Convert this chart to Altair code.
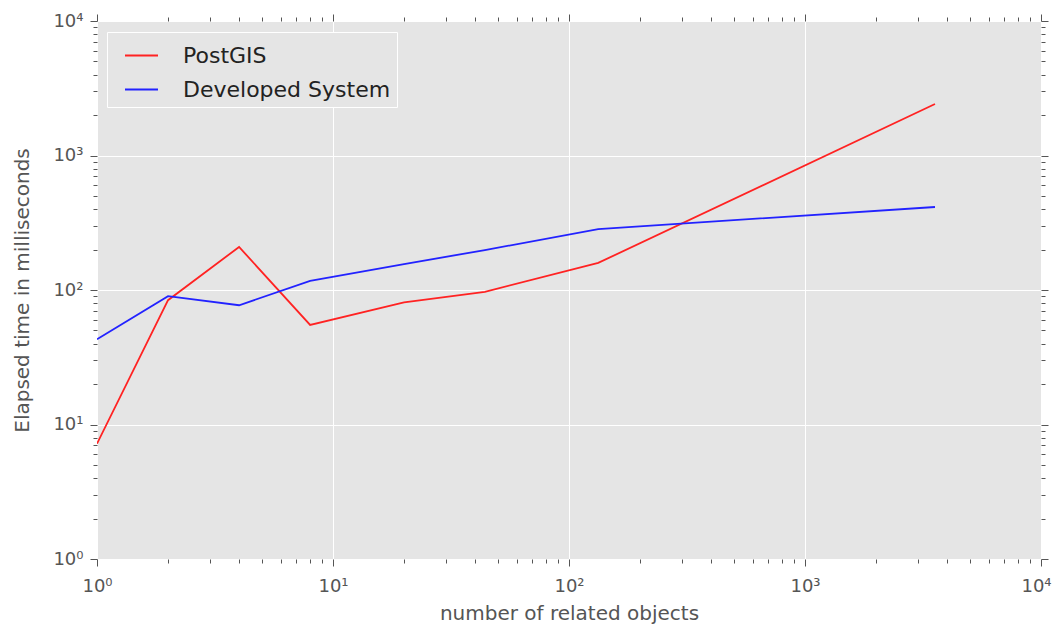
import altair as alt
import pandas as pd

# ---- data ----
objects = [1, 2, 4, 8, 20, 44, 133, 3555]
postgis_ms = [7.2, 84, 209, 55, 81, 97, 159, 2415]
developed_ms = [43, 90, 77, 117, 156, 198, 284, 414]
series_names = ["PostGIS", "Developed System"]
series_colors = ["#FF2222", "#2222FF"]
major_ticks = [1, 10, 100, 1000, 10000]
minor_ticks = [m * 10 ** e for e in range(4) for m in range(2, 10)]

rows = []
for name, vals in zip(series_names, [postgis_ms, developed_ms]):
    for xv, yv in zip(objects, vals):
        rows.append({"series": name, "objects": xv, "ms": yv})
df = pd.DataFrame(rows)

W, H = 944, 538
FONT = "DejaVu Sans"
GREY = "#555555"
BG = "#E5E5E5"

sup = "'10' + ['\u2070','\u00b9','\u00b2','\u00b3','\u2074'][round(log(datum.value)/LN10)]"


def sc():
    return alt.Scale(type="log", domain=[1, 10000], nice=False, zero=False)


def axis(orient, values, size, labels=False, grid=False, title=None, **kw):
    args = dict(
        orient=orient, values=values, tickSize=size, tickColor=GREY, tickWidth=1,
        domain=False, grid=grid, labels=labels, ticks=True,
    )
    if grid:
        args.update(gridColor="white", gridWidth=1, gridOpacity=1)
    if labels:
        args.update(labelExpr=sup, labelFont=FONT, labelFontSize=18, labelColor=GREY,
                    labelFlush=False, labelOverlap=False)
    if title:
        args.update(title=title, titleFont=FONT, titleFontSize=20, titleColor=GREY,
                    titleFontWeight="normal")
    else:
        args.update(title=None)
    args.update(kw)
    return alt.Axis(**args)


lines = alt.Chart(df).mark_line(strokeWidth=1.8, clip=True).encode(
    x=alt.X("objects:Q", scale=sc(),
            axis=axis("bottom", major_ticks, 7, labels=True, grid=True,
                      title="number of related objects", titlePadding=8,
                      labelPadding=11,
                      labelOffset=alt.ConditionalAxisNumber(
                          condition={"test": "datum.value >= 10000", "value": -5},
                          value=0))),
    y=alt.Y("ms:Q", scale=sc(),
            axis=axis("left", major_ticks, 7, labels=True, grid=True,
                      title="Elapsed time in milliseconds", titlePadding=20,
                      labelPadding=7)),
    color=alt.Color("series:N",
                    scale=alt.Scale(domain=series_names, range=series_colors),
                    legend=alt.Legend(
                        title=None, orient="none", legendX=10, legendY=11,
                        symbolType="stroke", symbolSize=1089, symbolStrokeWidth=1.8,
                        symbolOffset=11,
                        labelFont=FONT, labelFontSize=22, labelColor="#222222",
                        labelLimit=0,
                        fillColor=BG, strokeColor="white", padding=6,
                        rowPadding=5, labelOffset=24, cornerRadius=0)),
    order="objects:Q",
)


def ghost(xax, yax):
    return alt.Chart(df).mark_point(opacity=0).encode(
        x=alt.X("objects:Q", scale=sc(), axis=xax),
        y=alt.Y("ms:Q", scale=sc(), axis=yax),
    )


minor_bl = ghost(axis("bottom", minor_ticks, 4), axis("left", minor_ticks, 4))
major_tr = ghost(axis("top", major_ticks, 7), axis("right", major_ticks, 7))
minor_tr = ghost(axis("top", minor_ticks, 4), axis("right", minor_ticks, 4))

chart = alt.layer(lines, minor_bl, major_tr, minor_tr).resolve_scale(
    x="independent", y="independent"
).resolve_axis(
    x="independent", y="independent"
).properties(
    width=W, height=H,
    autosize=alt.AutoSizeParams(type="none"),
    padding={"left": 89, "top": 13, "right": 11, "bottom": 67},
    background="white",
).configure_view(fill=BG, stroke=None)

chart.save("out.html", embed_options={"renderer": "svg", "actions": False})
